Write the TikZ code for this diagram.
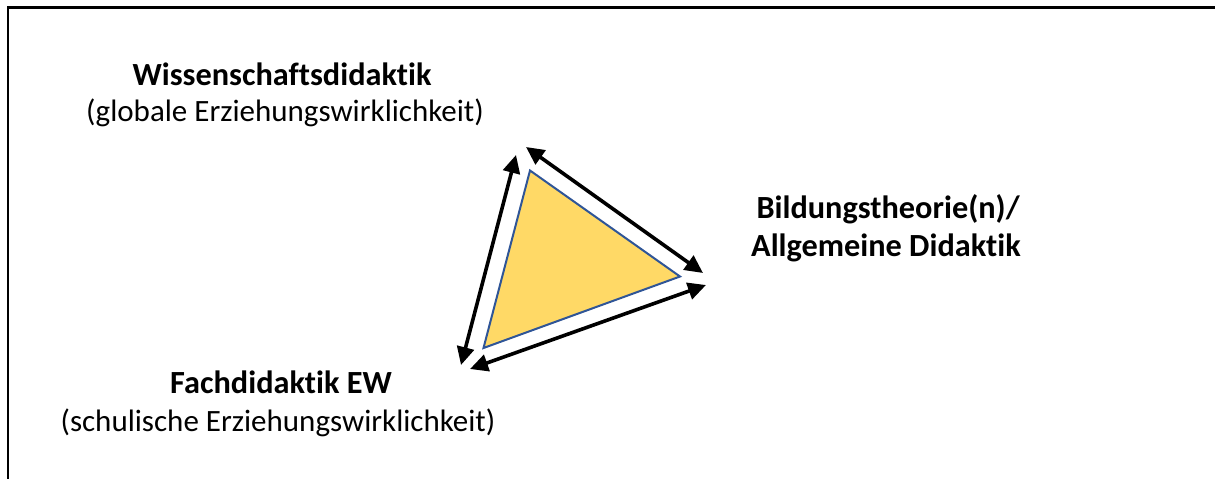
\documentclass[tikz,border=0pt]{standalone}
\usepackage{fontspec}
\setmainfont{Carlito}[Ligatures={NoCommon}]
\usetikzlibrary{arrows.meta}
\definecolor{triFill}{HTML}{FFD966}
\definecolor{triEdge}{HTML}{2F5597}

\begin{document}
\begin{tikzpicture}
[x=1pt,y=-1pt,%
  every node/.style={inner sep=0pt,anchor=base,font=\fontsize{31}{37}\selectfont},%
  head/.style={font=\bfseries\fontsize{32.3}{37}\selectfont},%
  link/.style={{Triangle[length=18pt,width=17pt]}-{Triangle[length=18pt,width=17pt]},line width=3.6pt}]
\useasboundingbox (0,0) rectangle (1215,479);
\draw[line width=2.3pt] (1216,7.5) -- (8.3,7.5) -- (8.3,480);
\coordinate (wd) at (530,170.5);
\coordinate (bt) at (680,276.5);
\coordinate (fd) at (483.5,348);
\filldraw[fill=triFill,draw=triEdge,line width=2pt,line join=miter] (wd) -- (bt) -- (fd) -- cycle;
\coordinate (l1) at (461,365);
\coordinate (l2) at (516,155);
\coordinate (r1) at (526,147);
\coordinate (r2) at (703,273);
\coordinate (b1) at (470,369);
\coordinate (b2) at (706,285);
\draw[link] (l1) -- (l2);
\draw[link] (r1) -- (r2);
\draw[link] (b1) -- (b2);
\node[head] (wiss) at (282,85) {Wissenschaftsdidaktik};
\node (wissnote) at (285,121.5) {(globale Erziehungswirklichkeit)};
\node[head] (bild) at (888,218) {Bildungstheorie(n)/};
\node[head] (allg) at (886,256.5) {Allgemeine Didaktik};
\node[head] (fach) at (281,393) {Fachdidaktik EW};
\node (fachnote) at (278,431.5) {(schulische Erziehungswirklichkeit)};
\end{tikzpicture}
\end{document}
